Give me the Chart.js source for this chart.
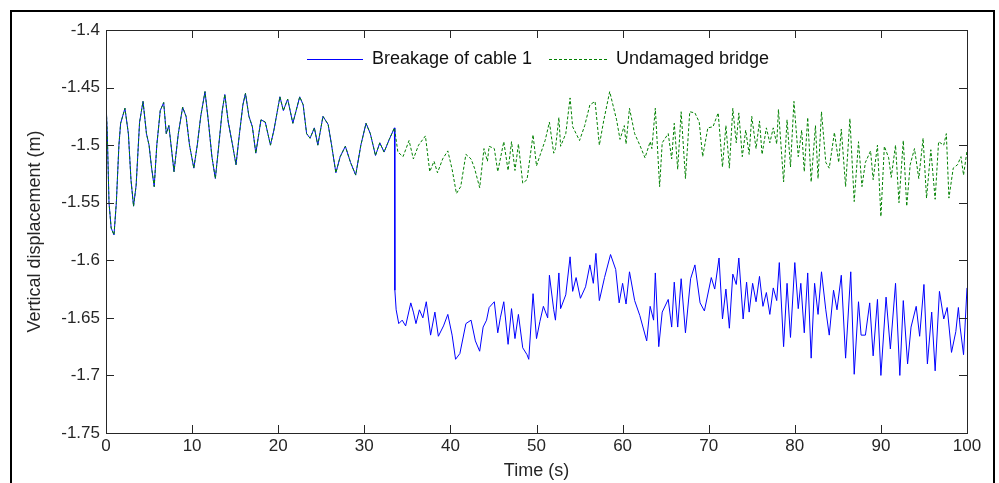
<!DOCTYPE html>
<html>
<head>
<meta charset="utf-8">
<script src="https://cdn.jsdelivr.net/npm/chart.js@4/dist/chart.umd.min.js"></script>
<style>
  html, body { margin: 0; padding: 0; background: #fff; }
  canvas { display: block; }
</style>
</head>
<body>
<canvas id="myChart" width="999" height="483"></canvas>
<script>
// shared response before the cable breaks (t < 33.5 s)
const timePre = [0, 0.15, 0.35, 0.6, 0.93, 1.2, 1.5, 1.7, 2.2, 2.6, 2.9, 3.2, 3.5, 3.9, 4.3, 4.7, 5.0, 5.3, 5.6, 5.9,
  6.3, 6.7, 7.0, 7.3, 7.9, 8.4, 8.9, 9.3, 9.7, 10.2, 10.6, 11.0, 11.5, 11.9, 12.3, 12.7, 13.1, 13.5, 13.8, 14.2,
  14.7, 15.1, 15.5, 15.9, 16.2, 16.6, 17.0, 17.4, 18.0, 18.5, 19.1, 19.5, 20.2, 20.6, 21.1, 21.7, 22.5, 22.9, 23.3, 23.7,
  24.2, 24.6, 25.2, 25.8, 26.2, 26.7, 27.2, 27.8, 28.4, 29.0, 29.6, 30.2, 30.7, 31.3, 31.8, 32.3, 32.9, 33.5];
const dispPre = [-1.462, -1.49, -1.55, -1.572, -1.578, -1.55, -1.50, -1.481, -1.468, -1.49, -1.53, -1.553, -1.535, -1.48, -1.462, -1.49, -1.50, -1.52, -1.536, -1.50,
  -1.47, -1.463, -1.49, -1.483, -1.523, -1.49, -1.467, -1.475, -1.50, -1.52, -1.50, -1.475, -1.4535, -1.48, -1.51, -1.529, -1.50, -1.47, -1.456, -1.48,
  -1.50, -1.517, -1.49, -1.465, -1.455, -1.475, -1.484, -1.507, -1.478, -1.48, -1.50, -1.487, -1.458, -1.47, -1.46, -1.481, -1.458, -1.465, -1.49, -1.494,
  -1.485, -1.50, -1.475, -1.482, -1.50, -1.524, -1.51, -1.501, -1.515, -1.526, -1.50, -1.481, -1.49, -1.509, -1.498, -1.506, -1.495, -1.485];

// breakage of cable 1, after the break
const timeCable = [33.55, 33.7, 34.0, 34.4, 34.8, 35.4, 35.7, 36.0, 36.4, 36.8, 37.2, 37.7, 38.2, 38.6, 39.2, 39.7, 40.2, 40.6, 41.1, 41.8,
  42.4, 42.9, 43.4, 43.8, 44.2, 44.5, 45.1, 45.5, 45.8, 46.2, 46.7, 47.1, 47.5, 47.9, 48.4, 48.9, 49.1, 49.6, 50.0, 50.4,
  50.8, 51.3, 51.5, 52.0, 52.2, 52.6, 52.8, 53.4, 53.9, 54.2, 54.6, 55.1, 55.7, 56.2, 56.6, 56.9, 57.3, 57.9, 58.6, 59.2,
  59.6, 60.0, 60.4, 60.8, 61.4, 62.0, 62.8, 63.2, 63.6, 63.8, 64.2, 64.6, 65.3, 65.7, 66.0, 66.4, 66.8, 67.3, 67.9, 68.4,
  69.0, 69.5, 70.3, 70.7, 71.2, 71.6, 72.0, 72.4, 72.8, 73.2, 73.5, 74.0, 74.4, 74.7, 75.1, 75.5, 75.9, 76.3, 76.7, 77.1,
  77.5, 77.9, 78.2, 78.7, 79.1, 79.5, 80.0, 80.4, 80.7, 81.1, 81.5, 81.9, 82.3, 82.7, 83.1, 83.6, 84.0, 84.5, 84.9, 85.4,
  85.9, 86.5, 86.9, 87.4, 87.7, 88.2, 88.7, 89.1, 89.6, 90.0, 90.6, 91.1, 91.7, 92.2, 92.6, 93.1, 93.5, 94.1, 94.5, 95.0,
  95.4, 95.9, 96.3, 96.8, 97.3, 97.7, 98.2, 98.7, 99.0, 99.2, 99.6, 100];
const dispCable = [-1.626, -1.643, -1.655, -1.652, -1.657, -1.637, -1.645, -1.655, -1.643, -1.650, -1.636, -1.665, -1.645, -1.666, -1.657, -1.647, -1.665, -1.686, -1.681, -1.655,
  -1.652, -1.670, -1.679, -1.658, -1.652, -1.641, -1.636, -1.663, -1.650, -1.636, -1.673, -1.642, -1.668, -1.647, -1.676, -1.682, -1.686, -1.629, -1.668, -1.653,
  -1.640, -1.650, -1.613, -1.643, -1.652, -1.611, -1.642, -1.630, -1.597, -1.627, -1.615, -1.633, -1.623, -1.604, -1.620, -1.594, -1.635, -1.615, -1.595, -1.608,
  -1.637, -1.620, -1.638, -1.610, -1.635, -1.648, -1.670, -1.640, -1.652, -1.611, -1.675, -1.645, -1.634, -1.658, -1.619, -1.658, -1.616, -1.663, -1.616, -1.604,
  -1.637, -1.644, -1.615, -1.625, -1.598, -1.651, -1.625, -1.659, -1.612, -1.621, -1.598, -1.651, -1.619, -1.645, -1.620, -1.636, -1.614, -1.640, -1.628, -1.647,
  -1.624, -1.635, -1.602, -1.675, -1.620, -1.667, -1.602, -1.642, -1.620, -1.663, -1.611, -1.685, -1.620, -1.647, -1.610, -1.643, -1.665, -1.626, -1.643, -1.613,
  -1.685, -1.610, -1.699, -1.636, -1.665, -1.665, -1.637, -1.683, -1.634, -1.700, -1.632, -1.677, -1.620, -1.700, -1.635, -1.690, -1.658, -1.640, -1.666, -1.621,
  -1.690, -1.645, -1.696, -1.627, -1.651, -1.641, -1.680, -1.662, -1.641, -1.658, -1.682, -1.624];

// undamaged bridge, after t = 33.5 s
const timeUndamaged = [33.9, 34.5, 35.2, 35.7, 36.3, 37.1, 37.6, 38.1, 38.5, 39.1, 39.7, 40.2, 40.7, 41.2, 41.8, 42.4, 42.8, 43.4, 43.9, 44.3,
  44.5, 45.1, 45.5, 46.2, 46.7, 47.1, 47.5, 47.9, 48.4, 48.9, 49.6, 50.0, 50.4, 51.0, 51.5, 52.0, 52.2, 52.6, 52.8, 53.4,
  53.9, 54.2, 55.0, 55.6, 56.2, 56.8, 57.3, 57.8, 58.5, 59.3, 59.7, 60.2, 60.4, 60.8, 61.4, 62.0, 62.6, 63.2, 63.4, 63.8,
  64.3, 64.6, 65.3, 65.7, 66.0, 66.4, 66.8, 67.3, 67.8, 68.4, 68.9, 69.3, 69.9, 70.5, 71.1, 71.6, 72.0, 72.4, 72.8, 73.2,
  73.5, 73.9, 74.3, 74.7, 75.0, 75.5, 75.9, 76.2, 76.7, 77.1, 77.5, 77.9, 78.1, 78.7, 79.1, 79.5, 79.9, 80.4, 80.8, 81.1,
  81.5, 81.9, 82.4, 82.7, 83.1, 83.6, 84.0, 84.6, 85.1, 85.4, 85.9, 86.4, 86.9, 87.4, 87.8, 88.2, 88.8, 89.1, 89.6, 90.0,
  90.4, 90.9, 91.2, 91.7, 92.1, 92.6, 93.0, 93.4, 93.9, 94.4, 94.9, 95.3, 95.8, 96.3, 96.7, 97.3, 97.6, 97.9, 98.4, 98.9,
  99.3, 99.6, 100];
const dispUndamaged = [-1.506, -1.510, -1.496, -1.512, -1.500, -1.492, -1.523, -1.514, -1.524, -1.512, -1.505, -1.521, -1.542, -1.536, -1.508, -1.512, -1.520, -1.537, -1.503, -1.514,
  -1.501, -1.503, -1.523, -1.497, -1.522, -1.497, -1.522, -1.499, -1.533, -1.530, -1.491, -1.518, -1.509, -1.496, -1.480, -1.507, -1.503, -1.476, -1.501, -1.490,
  -1.459, -1.484, -1.496, -1.483, -1.465, -1.462, -1.500, -1.479, -1.4535, -1.478, -1.495, -1.483, -1.499, -1.468, -1.490, -1.500, -1.511, -1.497, -1.503, -1.468,
  -1.536, -1.498, -1.490, -1.512, -1.481, -1.521, -1.471, -1.529, -1.471, -1.472, -1.480, -1.510, -1.485, -1.484, -1.472, -1.519, -1.483, -1.520, -1.468, -1.498,
  -1.472, -1.510, -1.487, -1.508, -1.475, -1.503, -1.479, -1.508, -1.485, -1.498, -1.485, -1.499, -1.469, -1.532, -1.478, -1.519, -1.462, -1.510, -1.487, -1.523,
  -1.476, -1.532, -1.483, -1.529, -1.471, -1.515, -1.520, -1.489, -1.515, -1.486, -1.536, -1.477, -1.549, -1.497, -1.536, -1.515, -1.505, -1.530, -1.500, -1.562,
  -1.501, -1.511, -1.528, -1.500, -1.550, -1.496, -1.553, -1.517, -1.503, -1.529, -1.494, -1.546, -1.504, -1.547, -1.497, -1.500, -1.490, -1.546, -1.520, -1.517,
  -1.510, -1.526, -1.505];

const xTicks = [0, 10, 20, 30, 40, 50, 60, 70, 80, 90, 100];
const yTicks = [-1.75, -1.7, -1.65, -1.6, -1.55, -1.5, -1.45, -1.4];

const toPoints = (ts, vs) => ts.map((t, i) => ({ x: t, y: vs[i] }));
const cablePoints = toPoints(timePre, dispPre).concat(toPoints(timeCable, dispCable));
const undamagedPoints = toPoints(timePre, dispPre).concat(toPoints(timeUndamaged, dispUndamaged));

const AXIS_COLOR = '#262626';
const FONT = "'Liberation Sans', Arial, sans-serif";

// MATLAB style box, inward ticks, outer frame and legend inside the axes
const matlabBox = {
  id: 'matlabBox',
  afterDraw(chart) {
    const { ctx, chartArea: a } = chart;
    const xs = chart.scales.x, ys = chart.scales.y;
    ctx.save();
    ctx.strokeStyle = AXIS_COLOR;
    ctx.lineWidth = 1;
    ctx.setLineDash([]);
    ctx.strokeRect(a.left + 0.5, a.top + 0.5, a.right - a.left, a.bottom - a.top);
    ctx.beginPath();
    xTicks.forEach(v => {
      const px = Math.round(xs.getPixelForValue(v)) + 0.5;
      ctx.moveTo(px, a.bottom); ctx.lineTo(px, a.bottom - 8);
      ctx.moveTo(px, a.top); ctx.lineTo(px, a.top + 8);
    });
    yTicks.forEach(v => {
      const py = Math.round(ys.getPixelForValue(v)) + 0.5;
      ctx.moveTo(a.left, py); ctx.lineTo(a.left + 8, py);
      ctx.moveTo(a.right, py); ctx.lineTo(a.right - 8, py);
    });
    ctx.stroke();

    // legend
    const sets = chart.data.datasets;
    const ly = 59;
    const items = [{ ds: sets[0], x1: 307, x2: 363, tx: 372 }, { ds: sets[1], x1: 549, x2: 607, tx: 616 }];
    ctx.font = '18px ' + FONT;
    ctx.textBaseline = 'middle';
    ctx.fillStyle = '#111';
    items.forEach(it => {
      ctx.beginPath();
      ctx.strokeStyle = it.ds.borderColor;
      ctx.setLineDash(it.ds.borderDash || []);
      ctx.moveTo(it.x1, ly + 0.5); ctx.lineTo(it.x2, ly + 0.5);
      ctx.stroke();
      ctx.fillText(it.ds.label, it.tx, ly);
    });

    // outer frame
    ctx.setLineDash([]);
    ctx.strokeStyle = '#000';
    ctx.lineWidth = 2;
    ctx.strokeRect(11, 11, 983, 500);
    ctx.restore();
  }
};

new Chart(document.getElementById('myChart'), {
  type: 'line',
  data: {
    datasets: [
      {
        label: 'Breakage of cable 1',
        data: cablePoints,
        borderColor: '#0000ff',
        borderWidth: 1,
        pointRadius: 0,
        tension: 0,
        order: 2
      },
      {
        label: 'Undamaged bridge',
        data: undamagedPoints,
        borderColor: '#008000',
        borderWidth: 1,
        borderDash: [3, 2],
        pointRadius: 0,
        tension: 0,
        order: 1
      }
    ]
  },
  options: {
    responsive: false,
    animation: false,
    layout: { padding: { left: 0, top: 30, right: 32, bottom: 0 } },
    plugins: { legend: { display: false }, tooltip: { enabled: false } },
    scales: {
      x: {
        type: 'linear',
        min: 0,
        max: 100,
        afterBuildTicks: s => { s.ticks = xTicks.map(v => ({ value: v })); },
        afterFit: s => { s.height = 50; },
        grid: { display: false, drawTicks: false },
        border: { display: false },
        ticks: { color: AXIS_COLOR, padding: 3, font: { family: FONT, size: 17 }, maxRotation: 0 },
        title: { display: true, text: 'Time (s)', color: AXIS_COLOR, font: { family: FONT, size: 18 }, padding: { top: 0, bottom: 1 } }
      },
      y: {
        type: 'linear',
        min: -1.75,
        max: -1.4,
        afterBuildTicks: s => { s.ticks = yTicks.map(v => ({ value: v })); },
        afterFit: s => { s.width = 106; },
        grid: { display: false, drawTicks: false },
        border: { display: false },
        ticks: { color: AXIS_COLOR, padding: 6, font: { family: FONT, size: 17 }, callback: v => String(+v.toFixed(2)) },
        title: { display: true, text: 'Vertical displacement (m)', color: AXIS_COLOR, font: { family: FONT, size: 18 }, padding: { top: 24, bottom: 0 } }
      }
    }
  },
  plugins: [matlabBox]
});
</script>
</body>
</html>
